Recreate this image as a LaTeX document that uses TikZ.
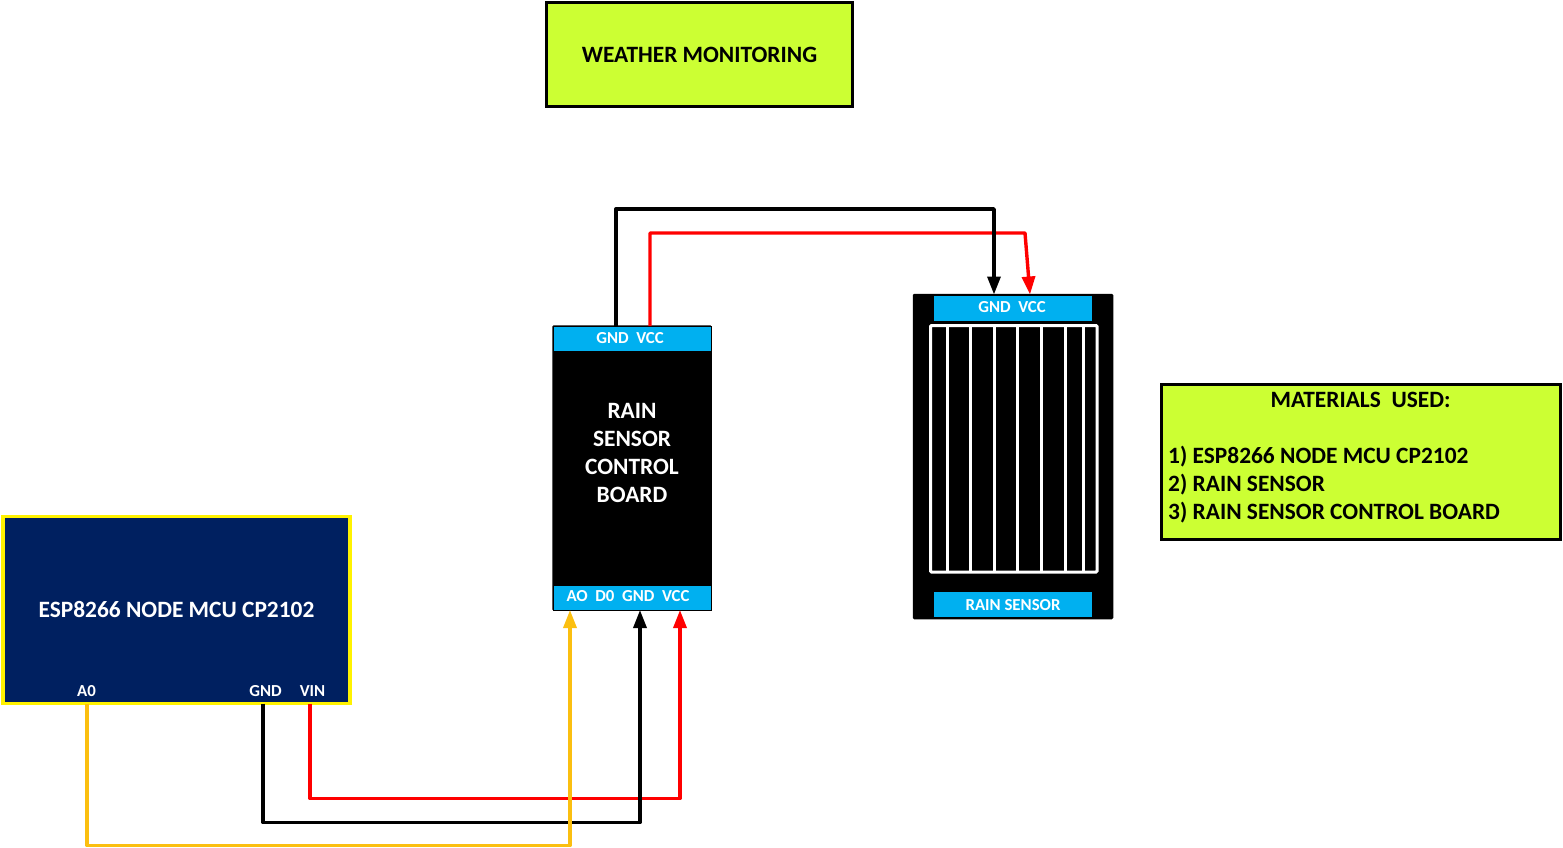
\documentclass[tikz,border=0pt]{standalone}
\usepackage{fontspec}
\setmainfont{Carlito}
\usetikzlibrary{arrows.meta}

\definecolor{limebox}{HTML}{CCFF33}
\definecolor{navybox}{HTML}{002060}
\definecolor{cyanbar}{HTML}{00B0F0}
\definecolor{wireyellow}{HTML}{FBBF10}

\tikzset{
    limebox/.style={draw=black, fill=limebox, line width=3pt, outer sep=0pt, inner sep=0pt},
    blackbox/.style={draw=black, fill=black, line width=1.5pt, outer sep=0pt, inner sep=0pt, rounded corners=1pt},
    pinbar/.style={draw=black, fill=cyanbar, line width=1pt, outer sep=0pt, inner sep=0pt,
        minimum width=158pt, minimum height=25pt},
    sensorbar/.style={pinbar, draw=none},
    bigtext/.style={font=\fontsize{23.4}{28}\selectfont\bfseries, inner sep=0pt},
    pintext/.style={font=\fontsize{16.8}{16}\selectfont\bfseries, text=white, inner sep=0pt},
    wire/.style={line width=3.4pt, line join=round, -{Triangle[length=18pt,width=13pt]}}
}

\begin{document}
\begin{tikzpicture}[x=1pt, y=-1pt]

    \useasboundingbox (0,0) rectangle (1563,848);

    % Title and list of materials
    \node[limebox, minimum width=306pt, minimum height=104pt] (title) at (699.5,54.5) {};
    \node[bigtext] (titletext) at (699.5,54.5) {WEATHER MONITORING};
    \node[limebox, minimum width=399pt, minimum height=155pt] (materials) at (1360.5,461.5) {};
    \node[bigtext] (materialshead) at (1360.5,400) {MATERIALS\ \ USED:};
    \node[bigtext, align=left, anchor=west] (materialslist) at (1168,485) {1) ESP8266 NODE MCU CP2102\\2) RAIN SENSOR\\3) RAIN SENSOR CONTROL BOARD};

    % ESP8266 board
    \node[draw=yellow, fill=navybox, line width=3.5pt, outer sep=0pt, inner sep=0pt,
        minimum width=347pt, minimum height=187pt] (mcu) at (176.5,610) {};
    \node[bigtext, text=white] (mcutext) at (176.5,610) {ESP8266 NODE MCU CP2102};
    \node[pintext] (mcuAo) at (86.5,691) {A0};
    \node[pintext] (mcuGnd) at (265.5,691) {GND};
    \node[pintext] (mcuVin) at (312.5,691) {VIN};

    % Control board
    \node[blackbox, minimum width=158pt, minimum height=284pt] (board) at (632,468) {};
    \node[pinbar] (boardtop) at (632,338.5) {};
    \node[pinbar] (boardbottom) at (632,597.5) {};
    \node[pintext] (boardtoptext) at (630,338) {GND\ \ VCC};
    \node[pintext] (boardbottomtext) at (628,596) {AO\ \ D0\ \ GND\ \ VCC};
    \node[bigtext, text=white, align=center] (boardtext) at (632,452.5) {RAIN\\SENSOR\\CONTROL\\BOARD};

    % Rain sensor
    \node[blackbox, minimum width=199pt, minimum height=324pt] (sensor) at (1013,456.5) {};
    \node[sensorbar] (sensortop) at (1013,308) {};
    \node[sensorbar] (sensorbottom) at (1013,604.5) {};
    \node[pintext] (sensortoptext) at (1012,307) {GND\ \ VCC};
    \node[pintext] (sensorbottomtext) at (1013,605) {RAIN SENSOR};

    % Draw the grid of the sensor
    \draw[white, line width=3pt, rounded corners=1pt] (930.5,325.5) rectangle (1097,572);
    \foreach \x in {947,970,994,1017,1041,1065,1083}
        \draw[white, line width=3pt] (\x,325.5) -- (\x,572);

    % Draw the wires
    \draw[wire, red] ([xshift=97pt]boardtop.north west) -- ++(0,-93) -- ++(375,0) -- ([xshift=17pt]sensor.north);
    \draw[wire, black] ([xshift=63pt]boardtop.north west) -- ++(0,-117) -| ([xshift=-19pt]sensor.north);

    \draw[wire, red] ([xshift=307pt]mcu.south west) -- ++(0,95) -| ([xshift=127pt]boardbottom.south west);
    \draw[wire, black] ([xshift=260pt]mcu.south west) -- ++(0,119) -| ([xshift=87pt]boardbottom.south west);
    \draw[wire, wireyellow] ([xshift=84pt]mcu.south west) -- ++(0,142) -| ([xshift=17pt]boardbottom.south west);

\end{tikzpicture}
\end{document}
